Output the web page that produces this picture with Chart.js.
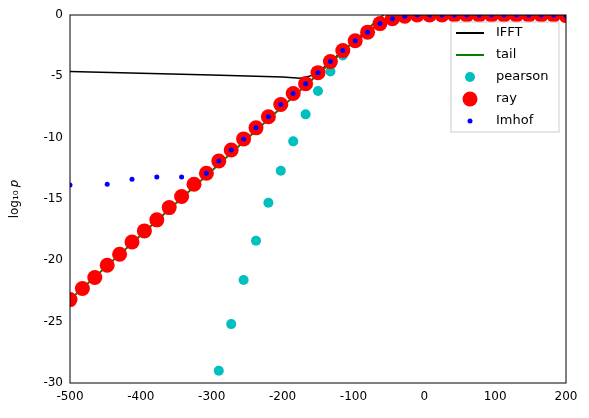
<!DOCTYPE html>
<html>
<head>
<script src="https://cdn.jsdelivr.net/npm/chart.js@4"></script>
<style>body{margin:0;background:#fff}#wrap{width:589px;height:418px}</style>
</head>
<body>
<div id="wrap"><canvas id="c"></canvas></div>
<script>
// x grid: -500 .. 200 step 17.5
const xs = [];
for (let k = 0; k <= 40; k++) xs.push(-500 + 17.5 * k);

const rayVals = [-23.2,-22.3,-21.4,-20.4,-19.5,-18.5,-17.6,-16.7,-15.7,-14.8,-13.8,-12.9,-11.9,-11.0,-10.1,-9.2,-8.3,-7.3,-6.4,-5.6,-4.7,-3.8,-2.9,-2.1,-1.4,-0.7,-0.3,-0.1,0,0,0,0,0,0,0,0,0,0,0,0,-0.05];
const imhofVals = [-13.85,null,null,-13.8,null,-13.4,null,-13.2,null,-13.2,null,-12.9,-11.9,-11.0,-10.1,-9.2,-8.3,-7.3,-6.4,-5.6,-4.7,-3.8,-2.9,-2.1,-1.4,-0.7,-0.3,-0.1,0,0,0,0,0,0,0,0,0,0,0,0,-0.05];
const pearsonVals = [null,null,null,null,null,null,null,null,null,null,null,null,-29.0,-25.2,-21.6,-18.4,-15.3,-12.7,-10.3,-8.1,-6.2,-4.6,-3.3,-2.2,-1.3,-0.6,-0.2,-0.05,0,0,0,0,0,0,0,0,0,0,0,0,-0.05];
const ifftX = [-500,-400,-300,-200,-175,-162.5,-150,-132.5,-115,-97.5,-80,-62.5,-45,-27.5,-10,200];
const ifftY = [-4.6,-4.75,-4.9,-5.05,-5.15,-5.0,-4.7,-3.8,-2.9,-2.1,-1.4,-0.7,-0.3,-0.1,0,0];
const tailX = [-500,-58,200];
const tailY = [-23.2,0,13.5];

const pts = (x, y) => x.map((v, i) => ({x: v, y: y[i]})).filter(p => p.y !== null);

const legendItems = [
  {label: 'IFFT', type: 'line', color: '#000000'},
  {label: 'tail', type: 'line', color: '#008000'},
  {label: 'pearson', type: 'dot', color: '#00bfbf', r: 5},
  {label: 'ray', type: 'dot', color: '#ff0000', r: 7.5},
  {label: 'Imhof', type: 'dot', color: '#0000ff', r: 2.5}
];

const frameLegend = {
  id: 'frameLegend',
  afterDraw(chart) {
    const {ctx, chartArea: a} = chart;
    ctx.save();
    ctx.strokeStyle = '#000';
    ctx.lineWidth = 1;
    ctx.strokeRect(a.left, a.top, a.right - a.left, a.bottom - a.top);
    // legend box
    const bx = 451, by = 22, bw = 108, bh = 110;
    ctx.fillStyle = 'rgba(255,255,255,0.8)';
    ctx.strokeStyle = '#ccc';
    ctx.fillRect(bx, by, bw, bh);
    ctx.strokeRect(bx, by, bw, bh);
    ctx.font = '13px "DejaVu Sans"';
    ctx.textBaseline = 'middle';
    legendItems.forEach((it, i) => {
      const y = by + 11 + i * 22;
      if (it.type === 'line') {
        ctx.strokeStyle = it.color;
        ctx.lineWidth = 2;
        ctx.beginPath(); ctx.moveTo(bx + 5, y); ctx.lineTo(bx + 33, y); ctx.stroke();
      } else {
        ctx.fillStyle = it.color;
        ctx.beginPath(); ctx.arc(bx + 19, y, it.r, 0, Math.PI * 2); ctx.fill();
      }
      ctx.fillStyle = '#000';
      ctx.fillText(it.label, bx + 45, y);
    });
    ctx.restore();
  }
};

new Chart(document.getElementById('c'), {
  type: 'scatter',
  data: {
    datasets: [
      {label: 'IFFT', type: 'line', data: pts(ifftX, ifftY), borderColor: '#000000', borderWidth: 1.5, pointRadius: 0, order: 5},
      {label: 'tail', type: 'line', data: pts(tailX, tailY), borderColor: '#008000', borderWidth: 2, pointRadius: 0, order: 4},
      {label: 'pearson', data: pts(xs, pearsonVals), backgroundColor: '#00bfbf', borderWidth: 0, pointRadius: 5, order: 3},
      {label: 'ray', data: pts(xs, rayVals), backgroundColor: '#ff0000', borderWidth: 0, pointRadius: 7.5, order: 2},
      {label: 'Imhof', data: pts(xs, imhofVals), backgroundColor: '#0000ff', borderWidth: 0, pointRadius: 2.5, order: 1}
    ]
  },
  options: {
    animation: false,
    responsive: true,
    maintainAspectRatio: false,
    layout: {padding: {top: 15, right: 23, left: 8, bottom: 0}},
    plugins: {legend: {display: false}, tooltip: {enabled: false}},
    scales: {
      x: {
        type: 'linear', min: -500, max: 200,
        grid: {display: false, drawTicks: true, tickLength: 4, tickColor: '#000'},
        border: {display: false},
        ticks: {stepSize: 100, color: '#000', font: {size: 12, family: 'DejaVu Sans'}, padding: 3},
        afterFit(s) { s.height = 35; }
      },
      y: {
        min: -30, max: 0,
        grid: {display: false, drawTicks: true, tickLength: 4, tickColor: '#000'},
        border: {display: false},
        ticks: {stepSize: 5, color: '#000', font: {size: 12, family: 'DejaVu Sans'}, padding: 3},
        title: {display: true, text: 'log₁₀ 𝑝', color: '#000', font: {size: 12, family: 'DejaVu Sans'}, padding: 0},
        afterFit(s) { s.width = 62; }
      }
    }
  },
  plugins: [frameLegend]
});
</script>
</body>
</html>
